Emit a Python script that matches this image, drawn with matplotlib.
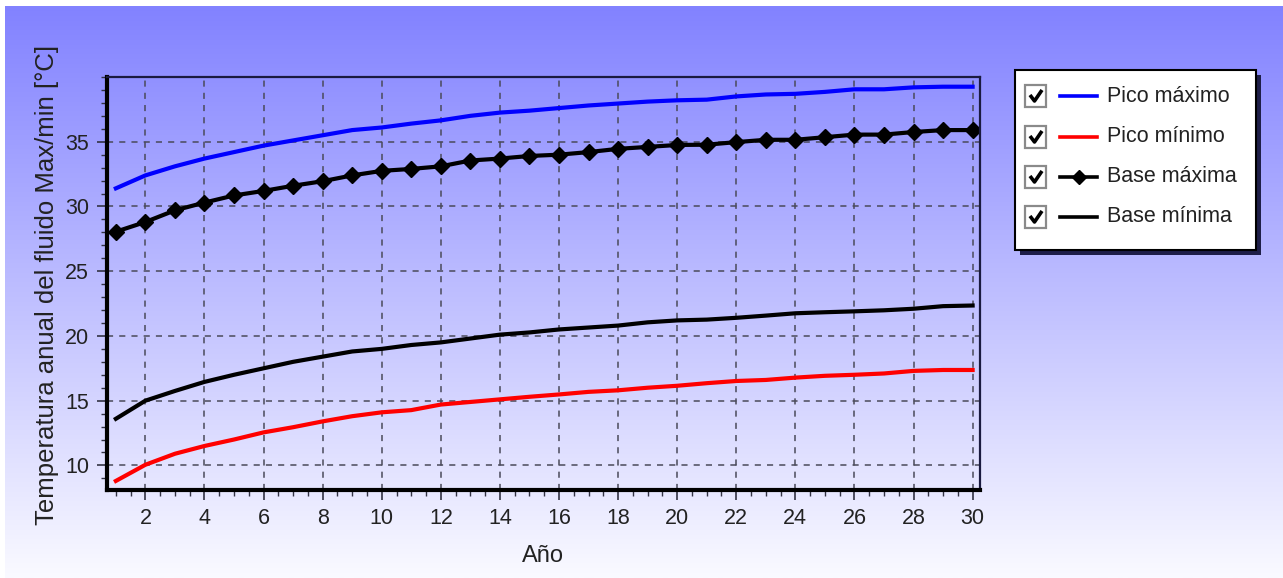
import numpy as np
import matplotlib
matplotlib.use("Agg")
import matplotlib.pyplot as plt
from matplotlib.patches import Rectangle
from matplotlib.lines import Line2D
from matplotlib.ticker import MultipleLocator

# Annual fluid temperatures over the 30-year simulation
years = list(range(1, 31))
pico_maximo = [31.4, 32.4, 33.1, 33.7, 34.2, 34.7, 35.1, 35.5, 35.9, 36.1,
               36.4, 36.65, 37.0, 37.25, 37.4, 37.6, 37.8, 37.95, 38.1, 38.2,
               38.25, 38.5, 38.65, 38.7, 38.85, 39.05, 39.05, 39.2, 39.25, 39.25]
pico_minimo = [8.8, 10.05, 10.9, 11.5, 12.0, 12.55, 12.95, 13.4, 13.8, 14.1,
               14.27, 14.7, 14.9, 15.1, 15.3, 15.48, 15.68, 15.8, 16.0, 16.15,
               16.35, 16.52, 16.6, 16.78, 16.92, 17.0, 17.1, 17.3, 17.37, 17.37]
base_maxima = [28.05, 28.8, 29.7, 30.3, 30.85, 31.2, 31.6, 31.95, 32.4, 32.75,
               32.9, 33.1, 33.55, 33.7, 33.9, 34.0, 34.2, 34.45, 34.6, 34.75,
               34.77, 34.97, 35.15, 35.15, 35.35, 35.55, 35.55, 35.75, 35.9, 35.9]
base_minima = [13.6, 15.0, 15.75, 16.45, 17.0, 17.5, 18.0, 18.4, 18.8, 19.0,
               19.3, 19.5, 19.8, 20.1, 20.27, 20.5, 20.65, 20.8, 21.05, 21.2,
               21.26, 21.4, 21.57, 21.75, 21.83, 21.9, 21.98, 22.1, 22.3, 22.35]

series_names = ["Pico máximo", "Pico mínimo", "Base máxima", "Base mínima"]
series_colors = ["#0000FF", "#FF0000", "#000000", "#000000"]
series_markers = [None, None, "D", None]
x_ticks = list(range(2, 31, 2))
y_ticks = [10, 15, 20, 25, 30, 35]
x_label = "Año"
y_label = "Temperatura anual del fluido Max/min [°C]"

plt.rcParams['font.family'] = ['Liberation Sans', 'DejaVu Sans']
FS = 15.5

W, H = 1283, 578
fig = plt.figure(figsize=(W / 100, H / 100), dpi=100)
fig.patch.set_facecolor("white")

# vertical blue-to-white background gradient
bg = fig.add_axes([5 / W, 0, 1 - 5 / W, 1 - 6 / H], zorder=0)
top_c = np.array([130, 130, 255]) / 255
bot_c = np.array([250, 250, 255]) / 255
t = np.linspace(0, 1, 512)[:, None]
grad = top_c * (1 - t) + bot_c * t
bg.imshow(grad[:, None, :], aspect="auto", extent=[0, 1, 0, 1])
bg.axis("off")

# main plot area
L, R, T, B = 107, 980, 77, 490
ax = fig.add_axes([L / W, 1 - B / H, (R - L) / W, (B - T) / H], zorder=1)
ax.patch.set_alpha(0)

data = [pico_maximo, pico_minimo, base_maxima, base_minima]
for vals, col, mk in zip(data, series_colors, series_markers):
    ax.plot(years, vals, color=col, lw=3.0, marker=mk, markersize=8.5,
            markerfacecolor=col, markeredgecolor=col, solid_joinstyle="miter")

ax.set_xlim(0.70, 30.25)
ax.set_ylim(8.1, 40.0)
ax.set_xticks(x_ticks)
ax.set_yticks(y_ticks)
ax.xaxis.set_minor_locator(MultipleLocator(0.5))
ax.yaxis.set_minor_locator(MultipleLocator(1))
ax.grid(True, which="major", color="#4a4a5a", linestyle=(0, (4, 4)), lw=1.1)
ax.set_axisbelow(True)
ax.tick_params(which="major", direction="out", length=7, width=1.2,
               labelsize=FS, pad=6, color="#333344", labelcolor="#222222")
ax.tick_params(which="minor", direction="out", length=4, width=1.0, color="#333344")
for s in ("left", "bottom"):
    ax.spines[s].set_linewidth(3.0)
    ax.spines[s].set_color("black")
for s in ("top", "right"):
    ax.spines[s].set_linewidth(1.6)
    ax.spines[s].set_color("#1a1a40")

fig.text(543 / W, 1 - 556 / H, x_label, ha="center", va="center",
         fontsize=17, color="#222222")
fig.text(47 / W, 1 - 285 / H, y_label, ha="center", va="center",
         rotation=90, fontsize=18.5, color="#222222")

# legend panel with check boxes
lg = fig.add_axes([0, 0, 1, 1], zorder=3)
lg.set_xlim(0, W)
lg.set_ylim(H, 0)
lg.axis("off")
lg.add_patch(Rectangle((1020, 75), 241, 180, facecolor="#1e1e48", edgecolor="none"))
lg.add_patch(Rectangle((1015, 70), 241, 180, facecolor="white",
                       edgecolor="black", lw=1.5))
rows = [96, 137, 177, 217]
for y, name, col, mk in zip(rows, series_names, series_colors, series_markers):
    lg.add_patch(Rectangle((1025, y - 11), 21, 22, facecolor="white",
                           edgecolor="#8a8a8a", lw=1.6))
    lg.add_line(Line2D([1030, 1034.5, 1042], [y - 1, y + 5, y - 6],
                       color="black", lw=2.6, solid_capstyle="butt"))
    lg.add_line(Line2D([1060, 1097], [y, y], color=col, lw=2.6))
    if mk:
        lg.add_line(Line2D([1078.5], [y], marker=mk, markersize=7.5, color=col))
    lg.text(1107, y, name, ha="left", va="center", fontsize=FS, color="#222222")

fig.savefig("out.png", dpi=100)
